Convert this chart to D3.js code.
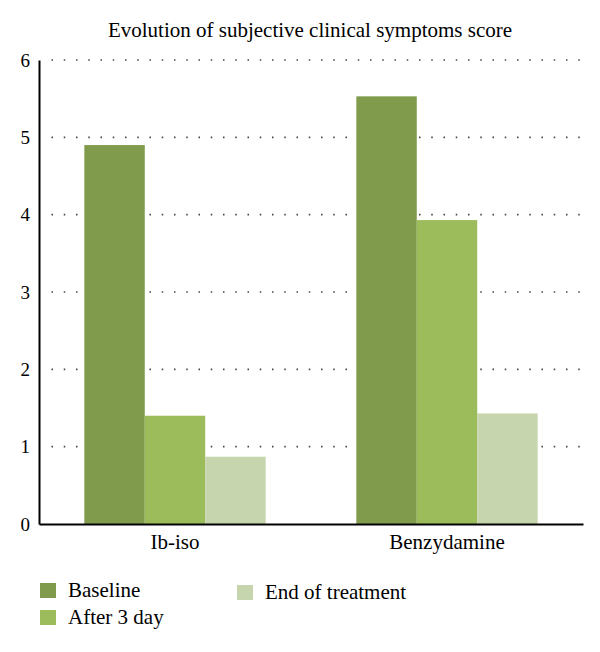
<!DOCTYPE html>
<html><head><meta charset="utf-8">
<script src="https://cdn.jsdelivr.net/npm/d3@7"></script>
<style>body{margin:0;background:#fff}svg{display:block}</style>
</head><body>
<svg id="c" width="600" height="652"></svg>
<script>
const categories = ["Ib-iso", "Benzydamine"];
const series = ["Baseline", "After 3 day", "End of treatment"];
const baseline = [4.9, 5.53];
const after3day = [1.4, 3.93];
const endOfTreatment = [0.87, 1.43];
const yTicks = [0, 1, 2, 3, 4, 5, 6];
const colors = ["#809b4b", "#9cbb5a", "#c6d5ad"];
const title = "Evolution of subjective clinical symptoms score";

(function () {
const values = [baseline, after3day, endOfTreatment];
const font = "'Liberation Serif', 'DejaVu Serif', serif";
const svg = d3.select("#c");
const pLeft = 39, pRight = 583, pTop = 60, pBottom = 524;

const y = d3.scaleLinear().domain([0, 6]).range([pBottom, pTop]);
const x0 = d3.scaleBand().domain(categories).range([pLeft, pRight]).padding(0);
const x1 = d3.scaleBand().domain(series).range([0, x0.bandwidth()]).paddingInner(0).paddingOuter(0.75);

svg.append("text").attr("x", 310).attr("y", 37).attr("text-anchor", "middle")
  .style("font-family", font).style("font-size", "21px").text(title);

// gridlines
svg.append("g").selectAll("line").data(yTicks.filter(d => d > 0)).join("line")
  .attr("x1", 51.5).attr("x2", 581).attr("y1", d => y(d)).attr("y2", d => y(d))
  .attr("stroke", "#444").attr("stroke-width", 1.6).attr("stroke-dasharray", "1.5 10.75");

// bars
const rows = [];
categories.forEach((c, i) => series.forEach((s, j) => rows.push({c, s, j, v: values[j][i]})));
svg.append("g").selectAll("rect").data(rows).join("rect")
  .attr("x", d => x0(d.c) + x1(d.s)).attr("width", x1.bandwidth())
  .attr("y", d => y(d.v)).attr("height", d => pBottom - y(d.v))
  .attr("fill", d => colors[d.j]);

// y axis
const yAxis = svg.append("g").attr("transform", `translate(${pLeft},0)`)
  .call(d3.axisLeft(y).tickValues(yTicks).tickSize(0).tickPadding(9).tickFormat(d3.format("d")));
yAxis.select(".domain").attr("stroke", "#000").attr("stroke-width", 2);
yAxis.selectAll("text").style("font-family", font).style("font-size", "19px").attr("fill", "#000");

// x axis
const xAxis = svg.append("g").attr("transform", `translate(0,${pBottom})`)
  .call(d3.axisBottom(x0).tickSize(0).tickPadding(10));
xAxis.select(".domain").attr("stroke", "#000").attr("stroke-width", 2);
xAxis.selectAll("text").style("font-family", font).style("font-size", "21px").attr("fill", "#000");

// legend
const legendPos = [{x: 40, y: 583}, {x: 40, y: 610}, {x: 237, y: 585}];
const lg = svg.append("g").selectAll("g").data(series).join("g")
  .attr("transform", (d, i) => `translate(${legendPos[i].x},${legendPos[i].y})`);
lg.append("rect").attr("width", 16).attr("height", 15).attr("fill", (d, i) => colors[i]);
lg.append("text").attr("x", 28).attr("y", 14).style("font-family", font).style("font-size", "21px").text(d => d);
})();
</script>
</body></html>
